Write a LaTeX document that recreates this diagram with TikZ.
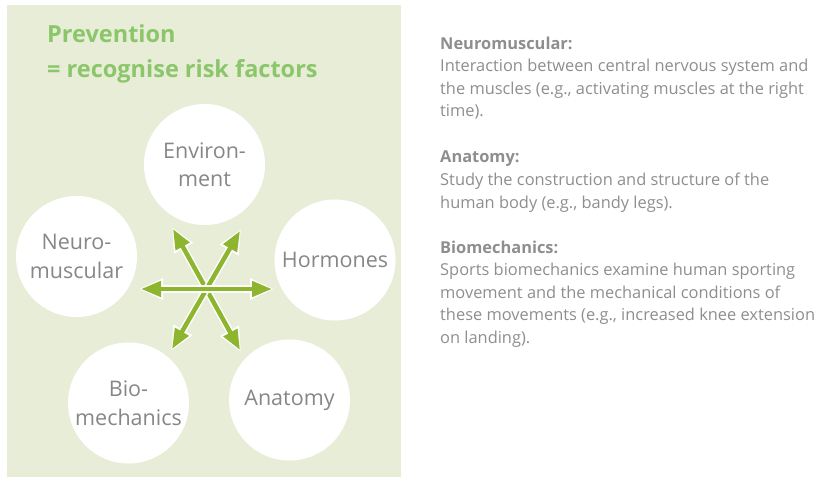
\documentclass[tikz,border=0pt]{standalone}
\usepackage{fontspec}
\setmainfont{Open Sans}
\usetikzlibrary{arrows.meta}

\definecolor{panel}{HTML}{E8EDD8}
\definecolor{leaf}{HTML}{8CC66A}
\definecolor{stem}{HTML}{8DB52E}
\definecolor{ash}{HTML}{878787}
\definecolor{smoke}{HTML}{8E8E8E}

\begin{document}
\begin{tikzpicture}[x=1pt,y=-1pt,
  factor/.style={circle,fill=white,minimum size=121pt,inner sep=0pt,align=center,
    text=ash,font=\fontsize{21.5}{28.5}\selectfont},
  note/.style={anchor=base west,align=left,inner sep=0pt,text=smoke,
    font=\fontsize{16.4}{22.5}\selectfont},
  halo/.style={white,line width=7.5pt,{Triangle[length=24pt,width=20pt]}-{Triangle[length=24pt,width=20pt]}},
  link/.style={stem,line width=4.5pt,{Triangle[length=20pt,width=15pt]}-{Triangle[length=20pt,width=15pt]}}]

\useasboundingbox (0,0) rectangle (826,478);
\fill[panel] (7,5) rectangle (401,477);

% title (base = last line)
\node[anchor=base west,align=left,inner sep=0pt,text=leaf,
  font=\fontsize{23.5}{35}\selectfont\bfseries] (title) at (47,78)
  {Prevention\\= recognise risk factors};

% the five factors
\node[factor] (env)   at (204.5,164.5) {Environ-\\ment};
\node[factor] (neuro) at (76.5,256.5)  {Neuro-\\muscular};
\node[factor] (horm)  at (335,260)     {Hormones};
\node[factor] (bio)   at (128.5,403)   {Bio-\\mechanics};
\node[factor] (anat)  at (289.5,400)   {Anatomy};

% arrow star
\coordinate (hub) at (206,290);
\coordinate (ul) at (173,229);
\coordinate (dr) at (240,350);
\coordinate (ur) at (240,231);
\coordinate (dl) at (172,349);
\coordinate (le) at (141,289);
\coordinate (ri) at (272,289);

\draw[halo,shorten <=-2pt,shorten >=-2pt] (ul) -- (dr);
\draw[link] (ul) -- (dr);
\draw[halo,shorten <=-2pt,shorten >=-2pt] (ur) -- (dl);
\draw[link] (ur) -- (dl);
\draw[halo,shorten <=-2pt,shorten >=-2pt] (le) -- (ri);
\draw[link] (le) -- (ri);

% explanations (base = last line)
\node[note] (n1) at (440,117) {{\bfseries Neuromuscular:}\\
  Interaction between central nervous system and\\
  the muscles (e.g., activating muscles at the right\\
  time).};
\node[note] (n2) at (440,208) {{\bfseries Anatomy:}\\
  Study the construction and structure of the\\
  human body (e.g., bandy legs).};
\node[note] (n3) at (440,343) {{\bfseries Biomechanics:}\\
  Sports biomechanics examine human sporting\\
  movement and the mechanical conditions of\\
  these movements (e.g., increased knee extension\\
  on landing).};
\end{tikzpicture}
\end{document}
